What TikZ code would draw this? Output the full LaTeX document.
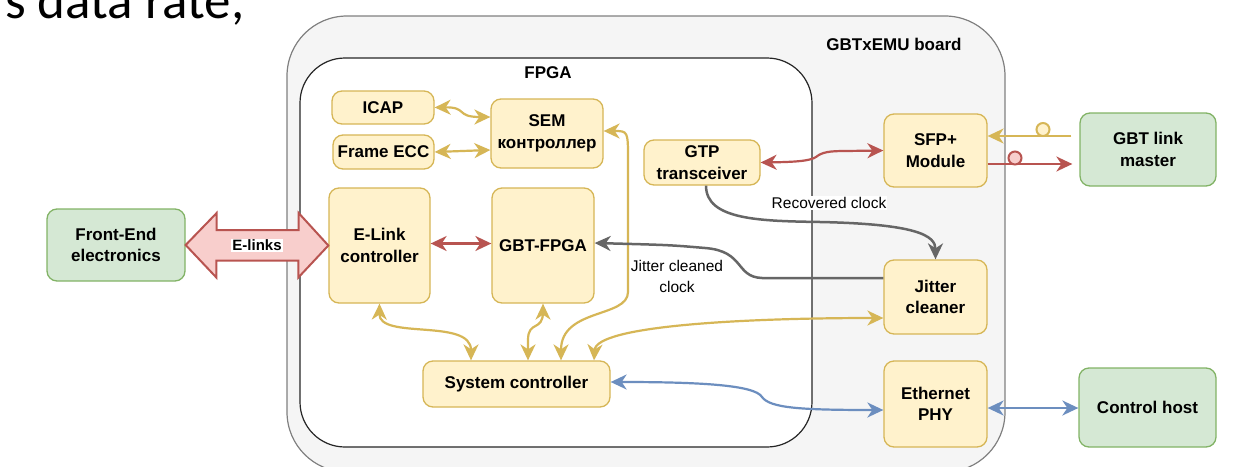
\documentclass[tikz,border=0pt]{standalone}
\usepackage{fontspec}
\setmainfont{Liberation Sans}
\newfontfamily\slidefont{Carlito}
\usetikzlibrary{arrows.meta,calc}
\definecolor{ylfill}{HTML}{FFF2CC}
\definecolor{ylline}{HTML}{D6B656}
\definecolor{grfill}{HTML}{D5E8D4}
\definecolor{grline}{HTML}{82B366}
\definecolor{rdfill}{HTML}{F8CECC}
\definecolor{rdline}{HTML}{B85450}
\definecolor{blline}{HTML}{6C8EBF}
\definecolor{gyline}{HTML}{666666}
\definecolor{boardfill}{HTML}{F5F5F5}
\definecolor{boardline}{HTML}{808080}
\begin{document}
\begin{tikzpicture}[x=1pt,y=-1pt,
  >={Stealth[length=16pt,width=15pt,inset=5pt]},
  box/.style={draw=ylline,fill=ylfill,line width=1.3pt,rounded corners=10pt,
    align=center,font=\fontsize{17}{21.5}\selectfont\bfseries,inner sep=0pt},
  gbox/.style={box,draw=grline,fill=grfill},
  lbl/.style={font=\fontsize{17}{21}\selectfont\bfseries,inner sep=0pt},
  small/.style={font=\fontsize{15.5}{21}\selectfont,inner sep=1pt,align=center},
  yconn/.style={draw=ylline,line width=2.2pt},
  rconn/.style={draw=rdline,line width=2.2pt},
  bconn/.style={draw=blline,line width=2.2pt},
  gconn/.style={draw=gyline,line width=2.5pt},
  dot/.style={circle,minimum size=13pt,inner sep=0pt,line width=2pt}
]
\useasboundingbox (0,0) rectangle (1250,466);
\clip (0,0) rectangle (1250,466);

% slide text fragment
\node[font=\slidefont\fontsize{53}{60}\selectfont,anchor=base west,inner sep=0pt] (slide) at (5,18.5) {s data rate,};

% containers
\node[draw=boardline,fill=boardfill,line width=1.2pt,rounded corners=60pt,
  minimum width=718pt,minimum height=456pt,inner sep=0pt] (board) at (646,244) {};
\node[draw=black!85,fill=white,line width=1.2pt,rounded corners=45pt,
  minimum width=512pt,minimum height=389pt,inner sep=0pt] (fpga) at (556,252.5) {};
\node[lbl] (boardlbl) at (894,44) {GBTxEMU board};
\node[lbl] (fpgalbl) at (548,73) {FPGA};

% blocks
\node[box,minimum width=102pt,minimum height=33pt] (icap) at (383,107.5) {ICAP};
\node[box,minimum width=101pt,minimum height=34pt] (fecc) at (383.5,152) {Frame ECC};
\node[box,minimum width=112pt,minimum height=69pt] (sem) at (547,133.5) {SEM\\контроллер};
\node[box,minimum width=116pt,minimum height=45pt] (gtp) at (702,162.5) {GTP\\transceiver};
\node[box,minimum width=103pt,minimum height=73pt] (sfp) at (935.5,150.5) {SFP+\\Module};
\node[gbox,minimum width=136pt,minimum height=73pt] (gbtm) at (1148,149.5) {GBT link\\master};
\node[box,minimum width=101pt,minimum height=115pt] (elink) at (379.5,245.5) {E-Link\\controller};
\node[box,minimum width=102pt,minimum height=115pt] (gbtf) at (543,245.5) {GBT-FPGA};
\node[gbox,minimum width=138pt,minimum height=72pt] (fe) at (116,245) {Front-End\\electronics};
\node[box,minimum width=103pt,minimum height=74pt] (jit) at (935.5,297) {Jitter\\cleaner};
\node[box,minimum width=187pt,minimum height=46pt] (sys) at (516.5,384) {System controller};
\node[box,minimum width=103pt,minimum height=86pt] (eth) at (935.5,404) {Ethernet\\PHY};
\node[gbox,minimum width=137pt,minimum height=79pt] (ctrl) at (1147.5,407.5) {Control host};

% E-links wide arrow
\draw[draw=rdline,fill=rdfill,line width=2pt,line join=miter]
  (fe.east) -- ++(31,-32) -- ++(0,17) -- ++(82,0) -- ++(0,-17) -- (elink.west)
  -- ++(-30,32) -- ++(0,-17) -- ++(-82,0) -- ++(0,17) -- cycle;
\node[lbl,font=\fontsize{15}{18}\selectfont\bfseries,fill=white,inner sep=1pt] (elinkslbl)
  at ($(fe.east)!0.5!(elink.west)$) {E-links};

% coordinates on block borders
\coordinate (icapE) at (icap.east);
\coordinate (semW1) at ([yshift=16.5pt]sem.west);
\coordinate (semW2) at ([yshift=-16.5pt]sem.west);
\coordinate (semE) at ([yshift=2.5pt]sem.east);
\coordinate (sys1) at ([xshift=-45.5pt]sys.north);
\coordinate (sys2) at ([xshift=11.5pt]sys.north);
\coordinate (sys3) at ([xshift=44.5pt]sys.north);
\coordinate (sys4) at ([xshift=77.5pt]sys.north);
\coordinate (sysE) at ([yshift=2pt]sys.east);
\coordinate (jitW1) at ([yshift=19pt]jit.west);
\coordinate (jitW2) at ([yshift=-21pt]jit.west);
\coordinate (gtpS) at ([xshift=4pt]gtp.south);
\coordinate (gtpE) at (gtp.east);
\coordinate (sfpW) at (sfp.west);
\coordinate (gbtfE) at ([yshift=2.5pt]gbtf.east);
\coordinate (ethW) at ([yshift=-6pt]eth.west);
\coordinate (ethE) at ([yshift=-4pt]eth.east);
\coordinate (sfpE1) at ([yshift=14.5pt]sfp.east);
\coordinate (sfpE2) at ([yshift=-13.5pt]sfp.east);
\coordinate (gbtmW1) at ([xshift=-8pt,yshift=13.5pt]gbtm.west);
\coordinate (gbtmW2) at ([xshift=-7pt,yshift=-14.5pt]gbtm.west);

% gold connectors
\draw[yconn,<->] (icapE) .. controls (468,107) and (455,117) .. (semW1);
\draw[yconn,<->] (fecc.east) -- (semW2);
\draw[yconn,<->] (semE) .. controls (628,131) .. (628,160) -- (628,292)
  .. controls (628,318) and (561,308) .. (sys3);
\draw[yconn,<->] (elink.south) .. controls (379,340) and (471,318) .. (sys1);
\draw[yconn,<->] (gbtf.south) -- ++(0,8) .. controls (543,332) and (528,320) .. (528,340) -- (sys2);
\draw[yconn,<->] (sys4) .. controls (596,326) and (740,318) .. (jitW2);

% gray clock connectors
\draw[gconn,->] (jitW1) -- (762,278) .. controls (735,277) and (745,251) .. (705,248)
  .. controls (670,245) .. (gbtfE);
\node[small] (jcl) at (677,276) {Jitter cleaned\\clock};
\draw[gconn,->] (gtpS) .. controls (706,220) and (760,221) .. (820,222)
  .. controls (915,224) and (935.5,235) .. (jit.north);
\node[small,fill=white] (rcl) at (829,203) {Recovered clock};

% red connectors
\draw[rconn,<->] ([yshift=2pt]elink.east) -- ([yshift=2pt]gbtf.west);
\draw[rconn,<->] (gtpE) .. controls (795,162) and (810,161) .. (816,157)
  .. controls (822,152) and (830,151) .. (845,151) -- (sfpW);
\draw[rconn,->] (sfpE2) -- (gbtmW2);
\node[dot,draw=rdline,fill=rdfill] (rdot) at (1015,158) {};
\draw[yconn,->] (gbtmW1) -- (sfpE1);
\node[dot,draw=ylline,fill=ylfill] (ydot) at (1043,129.5) {};

% blue connectors
\draw[bconn,<->] (sysE) .. controls (700,382) and (755,385) .. (762,397)
  .. controls (770,408) and (800,410) .. (ethW);
\draw[bconn,<->] (ethE) -- (ctrl.west |- ethE);
\end{tikzpicture}
\end{document}
